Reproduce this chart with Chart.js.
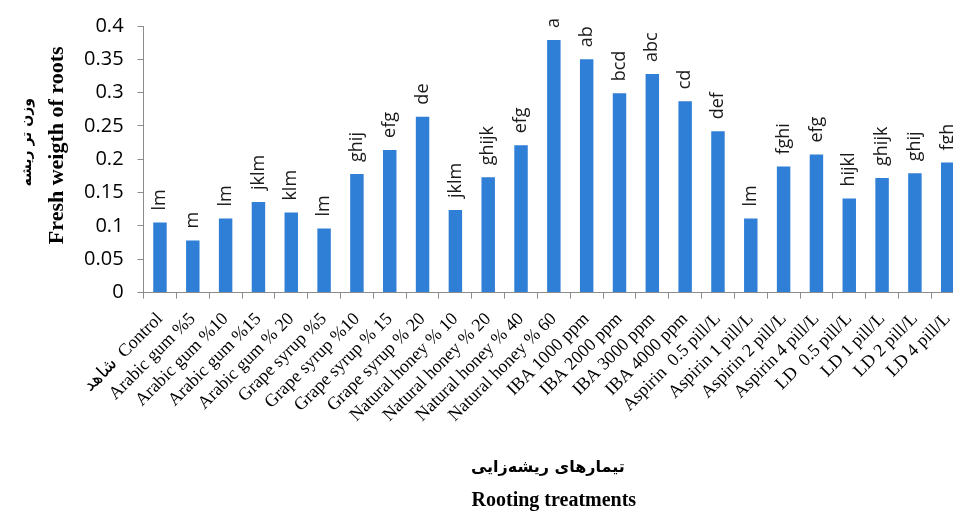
<!DOCTYPE html>
<html>
<head>
<meta charset="utf-8">
<script src="https://cdn.jsdelivr.net/npm/chart.js@4.4.1/dist/chart.umd.min.js"></script>
<style>
  html, body { margin: 0; padding: 0; background: #ffffff; overflow: hidden; }
  #wrap { width: 973px; height: 511px; position: relative; }
</style>
</head>
<body>
<div id="wrap"><canvas id="c" width="973" height="511"></canvas></div>
<script>
// ---- data ----
const categories = [
  'شاهد  Control', 'Arabic gum %5', 'Arabic gum %10', 'Arabic gum %15', 'Arabic gum % 20',
  'Grape syrup %5', 'Grape syrup %10', 'Grape syrup % 15', 'Grape syrup % 20',
  'Natural honey % 10', 'Natural honey % 20', 'Natural honey % 40', 'Natural honey % 60',
  'IBA 1000 ppm', 'IBA 2000 ppm', 'IBA 3000 ppm', 'IBA 4000 ppm',
  'Aspirin  0.5 pill/L', 'Aspirin 1 pill/L', 'Aspirin 2 pill/L', 'Aspirin 4 pill/L',
  'LD  0.5 pill/L', 'LD 1 pill/L', 'LD 2 pill/L', 'LD 4 pill/L'
];
const freshWeight = [
  0.105, 0.078, 0.111, 0.136, 0.120,
  0.096, 0.178, 0.214, 0.264,
  0.124, 0.173, 0.221, 0.379,
  0.350, 0.299, 0.328, 0.287,
  0.242, 0.111, 0.189, 0.207,
  0.141, 0.172, 0.179, 0.195
];
const groupLetters = [
  'lm', 'm', 'lm', 'jklm', 'klm',
  'lm', 'ghij', 'efg', 'de',
  'jklm', 'ghijk', 'efg', 'a',
  'ab', 'bcd', 'abc', 'cd',
  'def', 'lm', 'fghi', 'efg',
  'hijkl', 'ghijk', 'ghij', 'fgh'
];
const yTickLabels = ['0', '0.05', '0.1', '0.15', '0.2', '0.25', '0.3', '0.35', '0.4'];
const yTitleEn = 'Fresh weigth of roots';
const yTitleFa = 'وزن تر ریشه';
const xTitleEn = 'Rooting treatments';
const xTitleFa = 'تیمارهای ریشه‌زایی';

// ---- plugins ----
const letterPlugin = {
  id: 'letters',
  afterDatasetsDraw(chart) {
    const ctx = chart.ctx;
    const meta = chart.getDatasetMeta(0);
    ctx.save();
    ctx.font = '18px "Open Sans"';
    ctx.fillStyle = '#1a1a1a';
    ctx.textAlign = 'left';
    ctx.textBaseline = 'middle';
    meta.data.forEach((bar, i) => {
      ctx.save();
      ctx.translate(bar.x, bar.y - 12);
      ctx.rotate(-Math.PI / 2);
      ctx.fillText(groupLetters[i], 0, 0);
      ctx.restore();
    });
    ctx.restore();
  }
};

const titlePlugin = {
  id: 'titles',
  afterDraw(chart) {
    const ctx = chart.ctx;
    const a = chart.chartArea;
    const cx = (a.left + a.right) / 2;
    ctx.save();
    ctx.fillStyle = '#000';
    ctx.textAlign = 'center';
    ctx.textBaseline = 'middle';
    // x titles
    ctx.font = 'bold 16px "DejaVu Sans"';
    ctx.fillText(xTitleFa, cx - 6, a.bottom + 175);
    ctx.font = 'bold 20px "Liberation Serif"';
    ctx.fillText(xTitleEn, cx, a.bottom + 208);
    // y titles
    const cy = (a.top + a.bottom) / 2;
    ctx.save();
    ctx.translate(57, cy - 14);
    ctx.rotate(-Math.PI / 2);
    ctx.font = 'bold 22px "Liberation Serif"';
    ctx.fillText(yTitleEn, 0, 0);
    ctx.restore();
    ctx.save();
    ctx.translate(27, cy - 17);
    ctx.rotate(-Math.PI / 2);
    ctx.font = 'bold 14px "DejaVu Sans"';
    ctx.fillText(yTitleFa, 0, 0);
    ctx.restore();
    ctx.restore();
  }
};

new Chart(document.getElementById('c'), {
  type: 'bar',
  data: {
    labels: categories,
    datasets: [{
      data: freshWeight,
      backgroundColor: '#2f7fd6',
      borderWidth: 0,
      barPercentage: 0.41,
      categoryPercentage: 1.0
    }]
  },
  options: {
    responsive: false,
    animation: false,
    layout: { padding: { left: 70, right: 0, top: 14, bottom: 75 } },
    plugins: { legend: { display: false }, tooltip: { enabled: false } },
    scales: {
      x: {
        grid: { display: true, drawOnChartArea: false, drawTicks: true, tickLength: 6, color: '#8c8c8c', offset: true },
        border: { display: true, color: '#8c8c8c', width: 1 },
        ticks: {
          autoSkip: false, maxRotation: 45, minRotation: 45, padding: 10,
          color: '#000', font: { family: '"Liberation Serif"', size: 18 }
        }
      },
      y: {
        min: 0, max: 0.4,
        grid: { display: true, drawOnChartArea: false, drawTicks: true, tickLength: 6, color: '#8c8c8c' },
        border: { display: true, color: '#8c8c8c', width: 1 },
        ticks: {
          stepSize: 0.05, padding: 14, color: '#000',
          font: { family: '"Open Sans"', size: 20 },
          callback: (v, i) => yTickLabels[i]
        }
      }
    }
  },
  plugins: [letterPlugin, titlePlugin]
});
</script>
</body>
</html>
